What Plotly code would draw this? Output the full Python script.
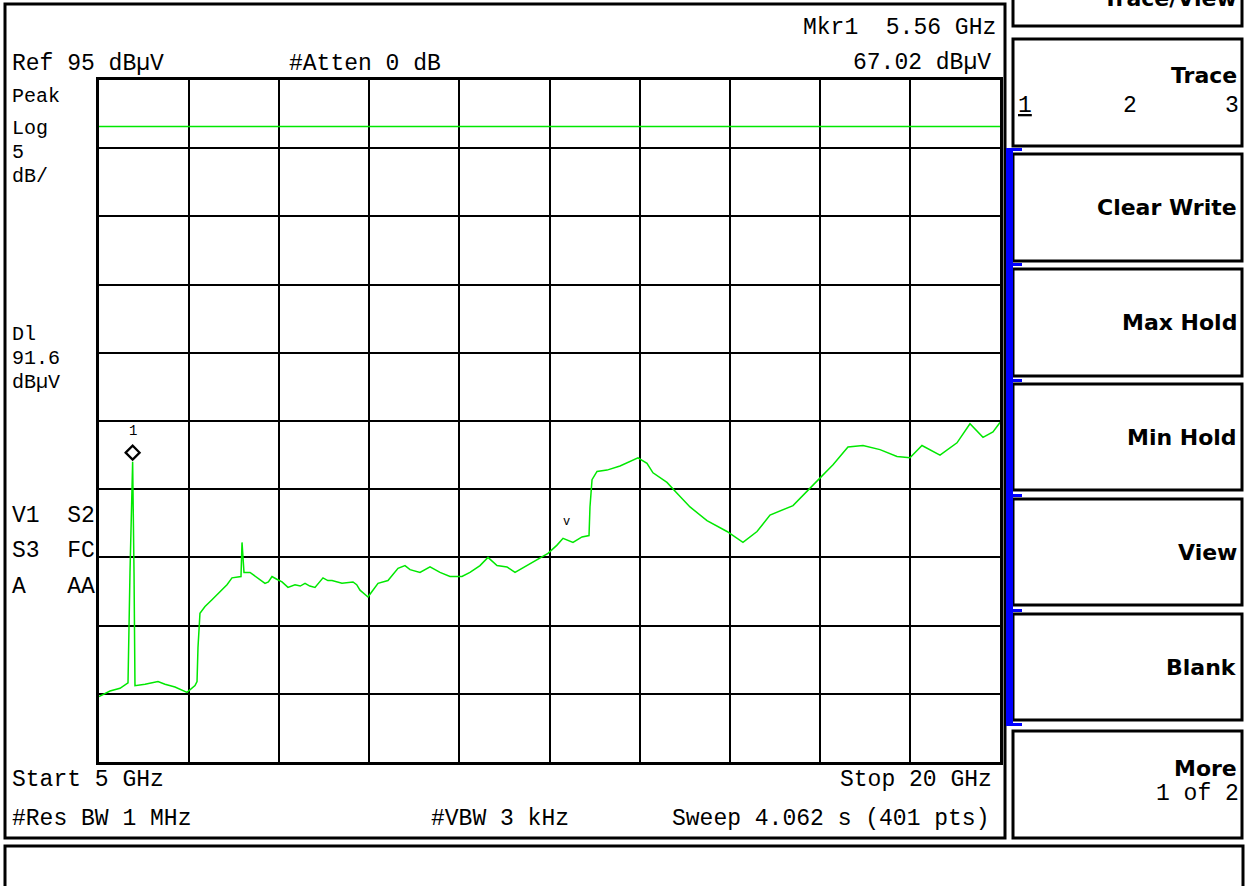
import plotly.graph_objects as go

START_GHZ = 5
STOP_GHZ = 20
REF_LEVEL = 95
DB_PER_DIV = 5
N_DIV = 10
DISPLAY_LINE = 91.6
MKR_FREQ = 5.56
MKR_LEVEL = 67.02
PEAK_HINT_FREQ = 12.79
PEAK_HINT_LEVEL = 62.6

FREQ_GHZ = [
    5.000, 5.183, 5.350, 5.483, 5.516, 5.560, 5.583, 5.599, 5.766, 5.882,
    5.982, 6.099, 6.265, 6.465, 6.598, 6.632, 6.648, 6.681, 6.765, 6.881,
    7.014, 7.131, 7.214, 7.314, 7.364, 7.381, 7.414, 7.514, 7.647, 7.764,
    7.820, 7.880, 7.960, 8.047, 8.146, 8.263, 8.350, 8.430, 8.510, 8.596,
    8.729, 8.810, 8.879, 9.045, 9.229, 9.290, 9.345, 9.478, 9.545, 9.645,
    9.811, 9.978, 10.094, 10.178, 10.344, 10.511, 10.677, 10.843, 11.043, 11.176,
    11.343, 11.476, 11.626, 11.792, 11.926, 12.125, 12.342, 12.475, 12.625, 12.725,
    12.891, 13.041, 13.158, 13.174, 13.208, 13.291, 13.457, 13.674, 13.973, 14.123,
    14.223, 14.456, 14.623, 14.839, 15.122, 15.455, 15.721, 15.955, 16.171, 16.554,
    16.887, 17.220, 17.469, 17.719, 18.002, 18.285, 18.501, 18.701, 19.001, 19.284,
    19.500, 19.717, 19.883, 20.000,
]
LEVEL_DBUV = [
    49.8, 50.2, 50.4, 50.8, 58.9, 67.02, 58.9, 50.6, 50.7, 50.8,
    50.9, 50.7, 50.5, 50.1, 50.6, 50.9, 53.4, 55.9, 56.4, 56.9,
    57.5, 58.0, 58.5, 58.6, 58.6, 61.1, 58.9, 58.9, 58.5, 58.1,
    58.2, 58.6, 58.4, 58.2, 57.8, 58.0, 57.9, 58.1, 57.9, 57.8,
    58.5, 58.3, 58.3, 58.1, 58.2, 58.0, 57.6, 57.1, 57.5, 58.1,
    58.3, 59.2, 59.4, 59.1, 58.9, 59.3, 58.9, 58.6, 58.6, 58.9,
    59.4, 60.0, 59.4, 59.3, 58.9, 59.4, 60.0, 60.3, 60.9, 61.4,
    61.1, 61.5, 61.6, 63.7, 65.7, 66.3, 66.4, 66.7, 67.3, 66.9,
    66.2, 65.5, 64.7, 63.7, 62.7, 61.9, 61.1, 61.9, 63.1, 63.8,
    65.3, 66.8, 68.1, 68.2, 67.9, 67.4, 67.3, 68.2, 67.5, 68.4,
    69.8, 68.8, 69.2, 69.9,
]

LEFT_TOP_LABELS = ["Peak", "Log", f"{DB_PER_DIV}", "dB/"]
LEFT_DL_LABELS = ["Dl", f"{DISPLAY_LINE}", "dBµV"]
LEFT_STATUS_LABELS = ["V1  S2", "S3  FC", "A   AA"]
SOFTKEYS = ["Clear Write", "Max Hold", "Min Hold", "View", "Blank"]
MENU_TITLE = "Trace/View"

# ---------------- layout helpers (pixel -> paper) ----------------
W, H = 1249, 886
PL, PR, PT, PB = 99, 1000, 80, 762


def px(x):
    return (x - PL) / (PR - PL)


def py(y):
    return (PB - y) / (PB - PT)


GREEN = "#00e800"
MONO = "Liberation Mono, DejaVu Sans Mono, monospace"
BOLD = "DejaVu Sans, Liberation Sans, sans-serif"

fig = go.Figure()
fig.add_trace(go.Scatter(
    x=FREQ_GHZ, y=LEVEL_DBUV, mode="lines",
    line=dict(color=GREEN, width=1.5), hoverinfo="skip", showlegend=False,
))

shapes = []
annotations = []


def rect(x0, y0, x1, y1, lw=3, fill=None, color="black"):
    shapes.append(dict(
        type="rect", xref="paper", yref="paper",
        x0=px(x0), x1=px(x1), y0=py(y1), y1=py(y0),
        line=dict(color=color, width=lw) if lw else dict(width=0),
        fillcolor=fill if fill else "rgba(0,0,0,0)", layer="above",
    ))


def text(x, y, s, anchor="left", size=23, family=MONO, weight=None):
    annotations.append(dict(
        xref="paper", yref="paper", x=px(x), y=py(y), text=s,
        showarrow=False, xanchor=anchor, yanchor="middle", borderpad=0,
        font=dict(family=family, size=size, color="black",
                  weight=weight if weight else "normal"),
    ))


# outer frames
rect(5, 4, 1005, 838)
rect(5, 846, 1243, 900)

# softkey boxes
boxes = [(-10, 26), (39, 146), (154, 261), (269, 376), (384, 490), (499, 605), (614, 720), (731, 838)]
for y0, y1 in boxes:
    rect(1013, y0, 1242, y1)

# blue active bar + ticks
rect(1006, 149, 1013, 726, lw=0, fill="#0000ff")
for yt in [149, 264, 380, 495, 610, 724]:
    rect(1006, yt - 1, 1022, yt + 2, lw=0, fill="#0000ff")

# display line
shapes.append(dict(type="line", xref="paper", yref="y", x0=0, x1=1,
                   y0=DISPLAY_LINE, y1=DISPLAY_LINE,
                   line=dict(color=GREEN, width=1.5), layer="above"))

# marker diamond (pixel-sized, anchored to marker point)
shapes.append(dict(type="path", xref="x", yref="y", xsizemode="pixel", ysizemode="pixel",
                   xanchor=MKR_FREQ, yanchor=MKR_LEVEL,
                   path="M -7 9 L 0 16 L 7 9 L 0 2 Z",
                   line=dict(color="black", width=2.2), layer="above"))
annotations.append(dict(xref="x", yref="y", x=MKR_FREQ, y=MKR_LEVEL, yshift=31,
                        text="1", showarrow=False,
                        font=dict(family=MONO, size=14, color="black")))
annotations.append(dict(xref="x", yref="y", x=PEAK_HINT_FREQ, y=PEAK_HINT_LEVEL,
                        text="v", showarrow=False,
                        font=dict(family=MONO, size=12, color="black")))

# header texts
text(997, 28, f"Mkr1  {MKR_FREQ:.2f} GHz", anchor="right")
text(992, 63, f"{MKR_LEVEL:.2f} dBµV", anchor="right")
text(11, 64, f"Ref {REF_LEVEL} dBµV")
text(288, 64, "#Atten 0 dB")

# left column
for s, y in zip(LEFT_TOP_LABELS, [97, 128, 152, 176]):
    text(11, y, s, size=20)
for s, y in zip(LEFT_DL_LABELS, [334, 358, 382]):
    text(11, y, s, size=20)
for s, y in zip(LEFT_STATUS_LABELS, [516, 551, 587]):
    text(11, y, s)

# footer texts
text(11, 780, f"Start {START_GHZ} GHz")
text(993, 780, f"Stop {STOP_GHZ} GHz", anchor="right")
text(11, 819, "#Res BW 1 MHz")
text(430, 819, "#VBW 3 kHz")
text(990, 819, "Sweep 4.062 s (401 pts)", anchor="right")

# softkey labels
text(1238, -2, MENU_TITLE, anchor="right", size=22, family=BOLD, weight="bold")
text(1238, 75, "Trace", anchor="right", size=22, family=BOLD, weight="bold")
text(1017, 106, "<u>1</u>", anchor="left")
text(1130, 106, "2", anchor="center")
text(1240, 106, "3", anchor="right")
for s, (y0, y1) in zip(SOFTKEYS, boxes[2:7]):
    text(1238, (y0 + y1) / 2, s, anchor="right", size=22, family=BOLD, weight="bold")
text(1238, 768, "More", anchor="right", size=22, family=BOLD, weight="bold")
text(1240, 794, "1 of 2", anchor="right")

axis_common = dict(showticklabels=False, ticks="", showgrid=True, gridcolor="black",
                   gridwidth=2, zeroline=False, showline=True, linecolor="black",
                   linewidth=3, mirror=True, fixedrange=True)

fig.update_layout(
    width=W, height=H, autosize=False,
    margin=dict(l=PL, r=W - PR, t=PT, b=H - PB, pad=0),
    paper_bgcolor="white", plot_bgcolor="white",
    xaxis=dict(range=[START_GHZ, STOP_GHZ], tick0=START_GHZ,
               dtick=(STOP_GHZ - START_GHZ) / N_DIV, **axis_common),
    yaxis=dict(range=[REF_LEVEL - DB_PER_DIV * N_DIV, REF_LEVEL],
               tick0=REF_LEVEL, dtick=DB_PER_DIV, **axis_common),
    shapes=shapes, annotations=annotations, showlegend=False,
)

fig.write_html("out.html", config={"displayModeBar": False},
               post_script="document.body.style.margin='0';document.body.style.overflow='hidden';")
